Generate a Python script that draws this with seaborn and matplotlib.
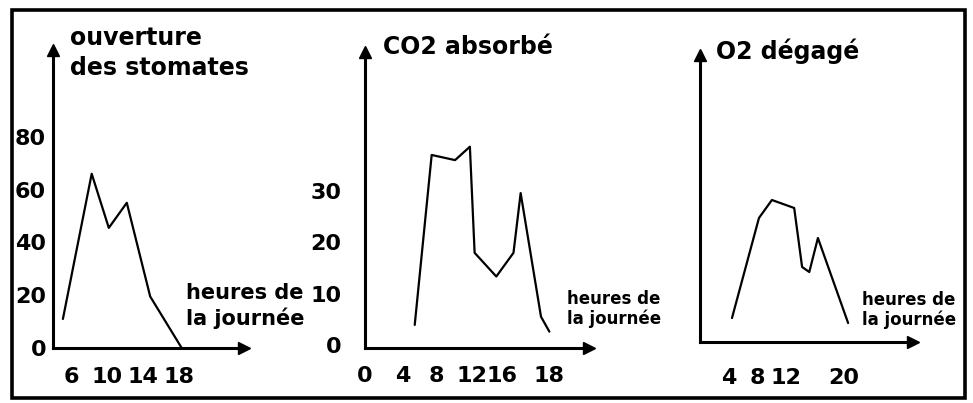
import numpy as np
import pandas as pd
import matplotlib
matplotlib.use("Agg")
import matplotlib.pyplot as plt
import seaborn as sns
from matplotlib.patches import Rectangle

# --- data (hand-drawn curves) ---
stomates_hours = [5.1, 8.3, 10.2, 12.2, 14.8, 18.3]
stomates_values = [11, 66, 45.5, 55, 19.5, 0]

co2_hours = [5.4, 7.4, 10.1, 11.8, 12.4, 15.3, 16.5, 16.8, 17.65, 18.0]
co2_values = [3.9, 36.9, 35.9, 38.5, 17.9, 13.3, 17.9, 29.5, 5.5, 2.6]

o2_hours = [4.45, 8.2, 10.0, 13.1, 14.2, 15.2, 16.4, 20.6]
o2_values = [4.8, 24.8, 28.4, 26.8, 15.0, 14.0, 20.8, 3.8]

stomates_xticks = [6, 8, 10, 12, 14, 16, 18]
stomates_xlabels = ["6", "", "10", "", "14", "", "18"]
stomates_yticks = [0, 20, 40, 60, 80, 100]
stomates_ylabels = ["0", "20", "40", "60", "80", ""]

co2_xticks = [0, 4, 8, 12, 16, 18]
co2_xlabels = ["0", "4", "8", "12", "16", "18"]
co2_yticks = [0, 10, 20, 30]

o2_xticks = [4, 8, 12, 16, 20]
o2_xlabels = ["4", "8", "12", "", "20"]

# the CO2 time axis is hand drawn: the last step (16 -> 18) is much wider
co2_axis_hours = [0, 4, 8, 12, 16, 18, 20]
co2_axis_pos = [0, 38, 72, 107, 137, 185, 228]

W, H = 973, 403
sns.set_style("white")
plt.rcParams['font.family'] = ['DejaVu Sans']
plt.rcParams['text.color'] = 'black'
plt.rcParams['xtick.color'] = 'black'
plt.rcParams['ytick.color'] = 'black'
plt.rcParams['xtick.labelcolor'] = 'black'
plt.rcParams['ytick.labelcolor'] = 'black'
fig = plt.figure(figsize=(W / 100, H / 100), dpi=100)


def px_axes(x0, x1, ytop, ybot):
    """Create axes from pixel coordinates (origin top-left)."""
    return fig.add_axes([x0 / W, 1 - ybot / H, (x1 - x0) / W, (ybot - ytop) / H])


def style_axes(ax):
    sns.despine(ax=ax)
    for side in ['left', 'bottom']:
        ax.spines[side].set_linewidth(2.2)
        ax.spines[side].set_color('black')
    # arrow heads at the end of each axis
    ax.plot(1, 0, marker='>', color='black', ms=9, transform=ax.transAxes, clip_on=False)
    ax.plot(0, 1, marker='^', color='black', ms=9, transform=ax.transAxes, clip_on=False)
    ax.set_xlabel('')
    ax.set_ylabel('')
    ax.set_facecolor('none')
    for lab in ax.get_xticklabels() + ax.get_yticklabels():
        lab.set_fontweight('bold')
        lab.set_color('black')


def pt(x, y):
    return x / W, 1 - y / H


# Panel 1 : ouverture des stomates
ax1 = px_axes(53, 244, 50, 348)
df1 = pd.DataFrame({'heure': stomates_hours, 'valeur': stomates_values})
sns.lineplot(data=df1, x='heure', y='valeur', ax=ax1, color='black', linewidth=1.6)
ax1.set_xlim(4, 4 + 191 / 9)
ax1.set_ylim(0, 298 / 2.64)
ax1.set_xticks(stomates_xticks, stomates_xlabels)
ax1.set_yticks(stomates_yticks, stomates_ylabels)
ax1.tick_params(axis='x', direction='out', length=5, width=2, pad=9, labelsize=16)
ax1.tick_params(axis='y', direction='out', length=3, width=1.2, pad=2, labelsize=16)
style_axes(ax1)

# Panel 2 : CO2 absorbé
ax2 = px_axes(365, 589, 52, 348)
ax2.set_xscale('function', functions=(
    lambda h: np.interp(h, co2_axis_hours, co2_axis_pos),
    lambda p: np.interp(p, co2_axis_pos, co2_axis_hours)))
df2 = pd.DataFrame({'heure': co2_hours, 'valeur': co2_values})
sns.lineplot(data=df2, x='heure', y='valeur', ax=ax2, color='black', linewidth=1.6)
ax2.set_xlim(0, 19.85)
ax2.set_ylim(-3 / 5.15, (345 - 52) / 5.15)
ax2.set_xticks(co2_xticks, co2_xlabels)
ax2.xaxis.set_minor_locator(matplotlib.ticker.NullLocator())
ax2.set_yticks(co2_yticks, [str(v) for v in co2_yticks])
ax2.tick_params(axis='x', direction='out', length=5, width=2, pad=8, labelsize=16)
ax2.tick_params(axis='y', direction='out', length=3, width=1.2, pad=14, labelsize=16)
style_axes(ax2)

# Panel 3 : O2 dégagé
ax3 = px_axes(700, 913, 55, 342)
df3 = pd.DataFrame({'heure': o2_hours, 'valeur': o2_values})
sns.lineplot(data=df3, x='heure', y='valeur', ax=ax3, color='black', linewidth=1.6)
ax3.set_xlim(0, 213 / 7.19)
ax3.set_ylim(0, (342 - 55) / 5)
ax3.set_xticks(o2_xticks, o2_xlabels)
ax3.set_yticks([])
ax3.tick_params(axis='x', direction='out', length=5, width=2, pad=14, labelsize=16)
style_axes(ax3)

# titles and axis captions
fig.text(*pt(70, 26), "ouverture\ndes stomates", fontsize=17, fontweight='bold',
         ha='left', va='top', linespacing=1.3)
fig.text(*pt(383, 35), "CO2 absorbé", fontsize=17, fontweight='bold', ha='left', va='top')
fig.text(*pt(716, 39), "O2 dégagé", fontsize=17, fontweight='bold', ha='left', va='top')
fig.text(*pt(186, 283), "heures de\nla journée", fontsize=15, fontweight='bold',
         ha='left', va='top', linespacing=1.25)
fig.text(*pt(567, 290), "heures de\nla journée", fontsize=12, fontweight='bold',
         ha='left', va='top', linespacing=1.1)
fig.text(*pt(862, 291), "heures de\nla journée", fontsize=12, fontweight='bold',
         ha='left', va='top', linespacing=1.1)

# outer frame
fig.patches.append(Rectangle((12 / W, 1 - 398 / H), (965 - 12) / W, (398 - 10) / H,
                             transform=fig.transFigure, fill=False, edgecolor='black',
                             linewidth=2.6))

fig.savefig('out.png', dpi=100)
